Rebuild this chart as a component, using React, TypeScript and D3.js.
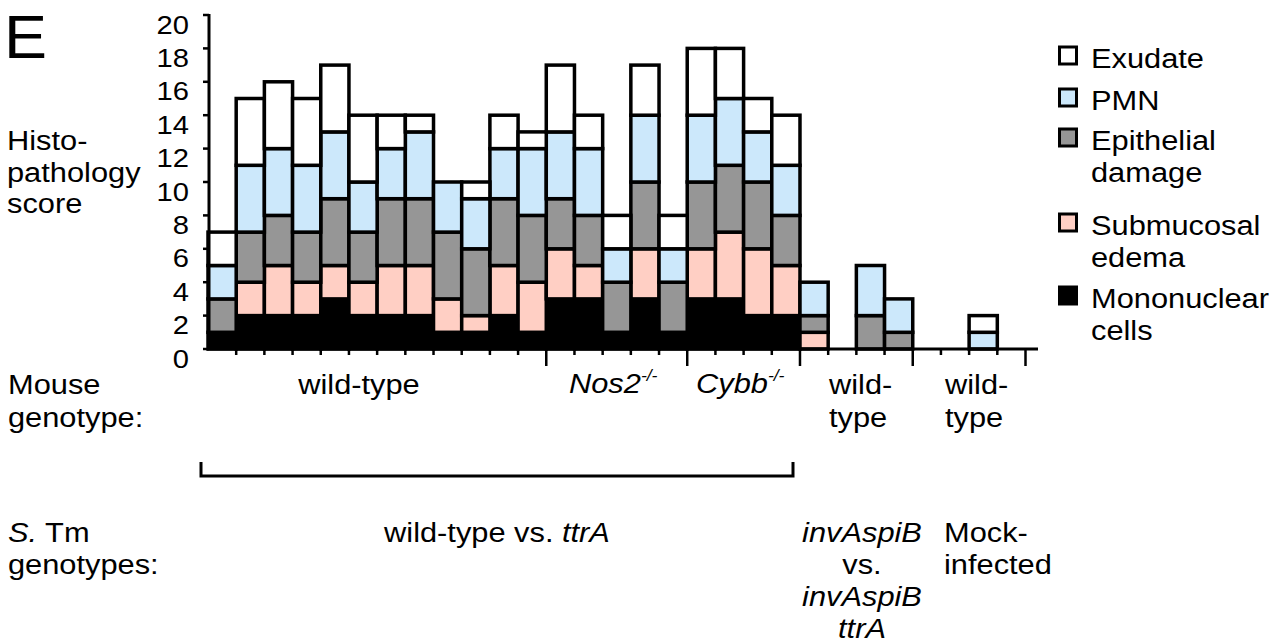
import React from 'react';
import * as d3 from 'd3';

// histopathology score components per mouse (left to right)
const mononuclear = [1, 2, 2, 2, 3, 2, 2, 2, 1, 1, 2, 1, 3, 3, 1, 3, 1, 3, 3, 2, 2, 0, 0, 0, 0, 0, 0, 0, 0];
const edema = [0, 2, 3, 2, 2, 2, 3, 3, 2, 1, 3, 3, 3, 2, 0, 3, 0, 3, 4, 4, 3, 1, 0, 0, 0, 0, 0, 0, 0];
const epithelial = [2, 3, 3, 3, 4, 3, 4, 4, 4, 4, 4, 4, 3, 3, 3, 4, 3, 4, 4, 4, 3, 1, 0, 2, 1, 0, 0, 0, 0];
const pmn = [2, 4, 4, 4, 4, 3, 3, 4, 3, 3, 3, 4, 4, 4, 2, 4, 2, 4, 4, 3, 3, 2, 0, 3, 2, 0, 0, 1, 0];
const exudate = [2, 4, 4, 4, 4, 4, 2, 1, 0, 1, 2, 1, 4, 2, 2, 3, 2, 4, 3, 2, 3, 0, 0, 0, 0, 0, 0, 1, 0];

const keys = ['mononuclear', 'edema', 'epithelial', 'pmn', 'exudate'];
const colors: Record<string, string> = {
  mononuclear: '#000000',
  edema: '#FFCFC4',
  epithelial: '#969696',
  pmn: '#CCE8FB',
  exudate: '#FFFFFF',
};

// slot index where each group ends (long ticks)
const groupEnds = [12, 17, 21, 25, 29];
const yTicks = [0, 2, 4, 6, 8, 10, 12, 14, 16, 18, 20];

const legendItems = [
  { key: 'exudate', lines: ['Exudate'] },
  { key: 'pmn', lines: ['PMN'] },
  { key: 'epithelial', lines: ['Epithelial', 'damage'] },
  { key: 'edema', lines: ['Submucosal', 'edema'] },
  { key: 'mononuclear', lines: ['Mononuclear', 'cells'] },
];

const FONT = '"Liberation Sans", Arial, Helvetica, sans-serif';

function T({ x, y, anchor = 'start', size = 28, sx = 1.1, children }: any) {
  return (
    <text
      transform={`translate(${x},${y}) scale(${sx},1)`}
      textAnchor={anchor}
      fontSize={size}
      fontFamily={FONT}
      fill="#000"
    >
      {children}
    </text>
  );
}

export default function App() {
  const n = mononuclear.length;
  const rows = d3.range(n).map((i) => ({
    mononuclear: mononuclear[i],
    edema: edema[i],
    epithelial: epithelial[i],
    pmn: pmn[i],
    exudate: exudate[i],
  }));
  const series = d3.stack<any>().keys(keys)(rows);

  const x = d3.scaleBand<number>().domain(d3.range(n)).range([208, 1025.5]).paddingInner(0);
  const y = d3.scaleLinear().domain([0, 20]).range([349, 15]);
  const bw = x.bandwidth();
  const edge = (i: number) => 208 + i * bw;

  const legendY = [68, 110, 150, 235, 308];
  const sw = 3.5;

  return (
    <svg
      width={1285}
      height={644}
      style={{ position: 'absolute', left: 0, top: 0, background: '#fff' }}
    >
      {/* panel letter */}
      <T x={4} y={58} size={62} sx={1.04}>E</T>

      {/* y axis title */}
      <T x={7} y={150}>Histo-</T>
      <T x={7} y={182}>pathology</T>
      <T x={7} y={213}>score</T>

      {/* bars */}
      {series.map((s) => (
        <g key={s.key}>
          {s.map((d, i) =>
            d[1] - d[0] > 0 ? (
              <rect
                key={i}
                x={x(i)}
                y={y(d[1])}
                width={bw}
                height={y(d[0]) - y(d[1])}
                fill={colors[s.key]}
                stroke="#000"
                strokeWidth={sw}
              />
            ) : null
          )}
        </g>
      ))}

      {/* y axis */}
      <line x1={209} x2={209} y1={y(20) - 1} y2={y(0)} stroke="#000" strokeWidth={3} />
      {yTicks.map((t) => (
        <g key={t}>
          <line x1={203} x2={209} y1={y(t)} y2={y(t)} stroke="#000" strokeWidth={2.5} />
          <T x={189} y={y(t) + 18.5} anchor="end" size={26.5}>{t}</T>
        </g>
      ))}

      {/* x axis */}
      <line x1={207} x2={1038} y1={y(0)} y2={y(0)} stroke="#000" strokeWidth={3} />
      {d3.range(1, n + 1).map((i) => {
        const long = groupEnds.includes(i);
        return (
          <line
            key={i}
            x1={edge(i)}
            x2={edge(i)}
            y1={y(0)}
            y2={y(0) + (long ? 17 : 6)}
            stroke="#000"
            strokeWidth={2.5}
          />
        );
      })}

      {/* mouse genotype row */}
      <T x={8} y={394}>Mouse</T>
      <T x={8} y={427}>genotype:</T>
      <T x={359} y={394} anchor="middle">wild-type</T>
      <T x={569} y={393}>
        <tspan fontStyle="italic">Nos2</tspan>
        <tspan fontStyle="italic" fontSize={16} dy={-12}>-/-</tspan>
      </T>
      <T x={696} y={393}>
        <tspan fontStyle="italic">Cybb</tspan>
        <tspan fontStyle="italic" fontSize={16} dy={-12}>-/-</tspan>
      </T>
      <T x={829} y={394}>wild-</T>
      <T x={829} y={427}>type</T>
      <T x={945} y={394}>wild-</T>
      <T x={945} y={427}>type</T>

      {/* bracket */}
      <path d="M201,462 V476 H793 V462" fill="none" stroke="#000" strokeWidth={3} />

      {/* S. Tm genotypes row */}
      <T x={8} y={542}>
        <tspan fontStyle="italic">S.</tspan> Tm
      </T>
      <T x={8} y={574}>genotypes:</T>
      <T x={497} y={542} anchor="middle">
        wild-type vs. <tspan fontStyle="italic">ttrA</tspan>
      </T>
      <T x={862} y={542} anchor="middle"><tspan fontStyle="italic">invAspiB</tspan></T>
      <T x={862} y={574} anchor="middle">vs.</T>
      <T x={862} y={606} anchor="middle"><tspan fontStyle="italic">invAspiB</tspan></T>
      <T x={862} y={638} anchor="middle"><tspan fontStyle="italic">ttrA</tspan></T>
      <T x={944} y={542}>Mock-</T>
      <T x={944} y={574}>infected</T>

      {/* legend */}
      {legendItems.map((it, k) => (
        <g key={it.key}>
          <rect
            x={1059.5}
            y={legendY[k] - 21}
            width={17}
            height={17}
            fill={colors[it.key]}
            stroke="#000"
            strokeWidth={3}
          />
          {it.lines.map((ln, j) => (
            <T key={j} x={1091} y={legendY[k] + j * 32}>{ln}</T>
          ))}
        </g>
      ))}
    </svg>
  );
}
